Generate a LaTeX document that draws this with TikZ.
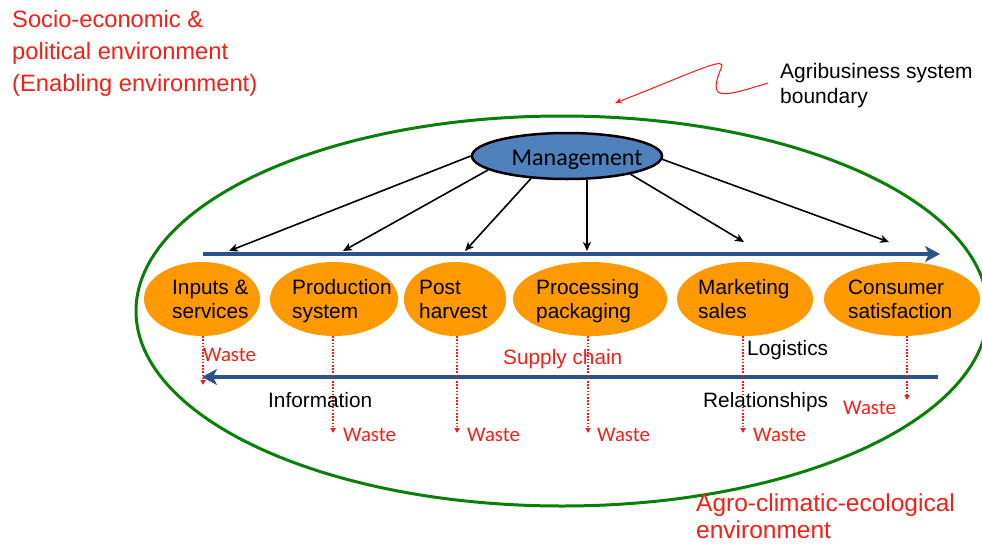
\documentclass[tikz,border=0pt]{standalone}
\usepackage{fontspec}
\setmainfont{Liberation Sans}
\newfontfamily\calfont{Carlito}
\usetikzlibrary{arrows.meta,shapes.geometric}
\definecolor{redtxt}{RGB}{242,32,22}
\definecolor{wastered}{RGB}{255,20,20}
\definecolor{barblue}{RGB}{44,82,140}
\definecolor{mgmtblue}{RGB}{79,129,189}
\definecolor{orangefill}{RGB}{255,153,0}
\definecolor{boundgreen}{RGB}{8,128,8}
\begin{document}
\begin{tikzpicture}[x=1pt,y=-1pt,
  stage/.style={ellipse, fill=orangefill, draw=none, inner sep=0pt, minimum height=74pt},
  stagetext/.style={anchor=west, align=left, inner sep=0pt, font=\fontsize{20.8}{24}\selectfont},
  plaintext/.style={anchor=base west, inner sep=0pt, font=\fontsize{20.8}{24}\selectfont},
  wastetext/.style={anchor=base west, inner sep=0pt, text=redtxt, font=\calfont\fontsize{20.8}{24}\selectfont},
  envtext/.style={anchor=west, align=left, inner sep=0pt, text=redtxt},
  mgmtarrow/.style={draw=black, line width=1.6pt, -{Stealth[length=9pt,width=8pt,inset=2.5pt]}},
  flowbar/.style={draw=barblue, line width=4.5pt, -{Stealth[length=15pt,width=16pt,inset=4pt]}},
  wastearrow/.style={draw=wastered, line width=1.2pt, dash pattern=on 1.6pt off 1.6pt, -{Triangle[length=5pt,width=5pt]}},
]
\useasboundingbox (0,0) rectangle (982,544);

% system boundary
\draw[boundgreen, line width=3pt] (562,311) ellipse [x radius=426pt, y radius=195pt];

% environment labels
\node[envtext, font=\fontsize{23.7}{32}\selectfont] (socio) at (12,53)
  {Socio-economic \&\strut\\political environment\strut\\(Enabling environment)\strut};
\node[envtext, font=\fontsize{24.5}{27}\selectfont] (agro) at (696,520)
  {Agro-climatic-ecological\strut\\environment\strut};
\node[anchor=west, align=left, inner sep=0pt, font=\fontsize{21}{25}\selectfont] (agri) at (780,85.5)
  {Agribusiness system\strut\\boundary\strut};

% wavy pointer
\coordinate (wstart) at (768,83);
\coordinate (wend) at (615,103);
\draw[wastered, line width=1pt, -{Stealth[length=7pt,width=6pt]}]
  (wstart) .. controls (745,90) and (724,97) .. (718,92)
  .. controls (712,86) and (722,68) .. (722,65)
  .. controls (721,58) and (680,78) .. (wend);

% management
\node[ellipse, draw=black, line width=2.5pt, fill=mgmtblue, minimum width=190pt, minimum height=46pt, inner sep=0pt] (mgmt) at (567,156) {};
\node[anchor=base, inner sep=0pt, font=\calfont\fontsize{24}{28}\selectfont] (mgmttext) at (577,165) {Management};

% flow bars
\coordinate (topL) at (203,254);
\coordinate (topR) at (940,254);
\coordinate (botR) at (938,377);
\coordinate (botL) at (202,377);
\draw[flowbar] (topL) -- (topR);
\draw[flowbar] (botR) -- (botL);

% management arrows
\coordinate (t1) at (229,251);
\coordinate (t2) at (343,251);
\coordinate (t3) at (465,251);
\coordinate (t4) at (587,251);
\coordinate (t5) at (744,242);
\coordinate (t6) at (889,242);
\draw[mgmtarrow] (mgmt.180) -- (t1);
\draw[mgmtarrow] (mgmt.190) -- (t2);
\draw[mgmtarrow] (mgmt.212) -- (t3);
\draw[mgmtarrow] (t4 |- mgmt.south) -- (t4);
\draw[mgmtarrow] (mgmt.344) -- (t5);
\draw[mgmtarrow] (mgmt.358) -- (t6);

% stages
\node[stage, minimum width=116pt] (e1) at (202,299) {};
\node[stage, minimum width=128pt] (e2) at (334,299) {};
\node[stage, minimum width=102pt] (e3) at (455,299) {};
\node[stage, minimum width=154pt] (e4) at (590,299) {};
\node[stage, minimum width=136pt] (e5) at (745,299) {};
\node[stage, minimum width=156pt] (e6) at (902,299) {};
\node[stagetext] (l1) at (172,301.5) {Inputs \&\strut\\services\strut};
\node[stagetext] (l2) at (292,301.5) {Production\strut\\system\strut};
\node[stagetext] (l3) at (419,301.5) {Post\strut\\harvest\strut};
\node[stagetext] (l4) at (536,301.5) {Processing\strut\\packaging\strut};
\node[stagetext] (l5) at (698,301.5) {Marketing\strut\\sales\strut};
\node[stagetext] (l6) at (848,301.5) {Consumer\strut\\satisfaction\strut};

% waste arrows
\coordinate (w1) at (203,385);
\coordinate (w2) at (333,433);
\coordinate (w3) at (457,433);
\coordinate (w4) at (588,433);
\coordinate (w5) at (743,433);
\coordinate (w6) at (907,400);
\draw[wastearrow] (e1.south -| w1) -- (w1);
\draw[wastearrow] (e2.south -| w2) -- (w2);
\draw[wastearrow] (e3.south -| w3) -- (w3);
\draw[wastearrow] (e4.south -| w4) -- (w4);
\draw[wastearrow] (e5.south -| w5) -- (w5);
\draw[wastearrow] (e6.south -| w6) -- (w6);
\node[wastetext] (wl1) at (203,361) {Waste};
\node[wastetext] (wl2) at (343,441.5) {Waste};
\node[wastetext] (wl3) at (467,441.5) {Waste};
\node[wastetext] (wl4) at (597,441.5) {Waste};
\node[wastetext] (wl5) at (753,441.5) {Waste};
\node[wastetext] (wl6) at (843,414) {Waste};

% flow labels
\node[plaintext, text=redtxt] (supply) at (503,364) {Supply chain};
\node[plaintext] (logistics) at (747,355) {Logistics};
\node[plaintext] (info) at (268,407) {Information};
\node[plaintext] (rel) at (703,407) {Relationships};
\end{tikzpicture}
\end{document}
